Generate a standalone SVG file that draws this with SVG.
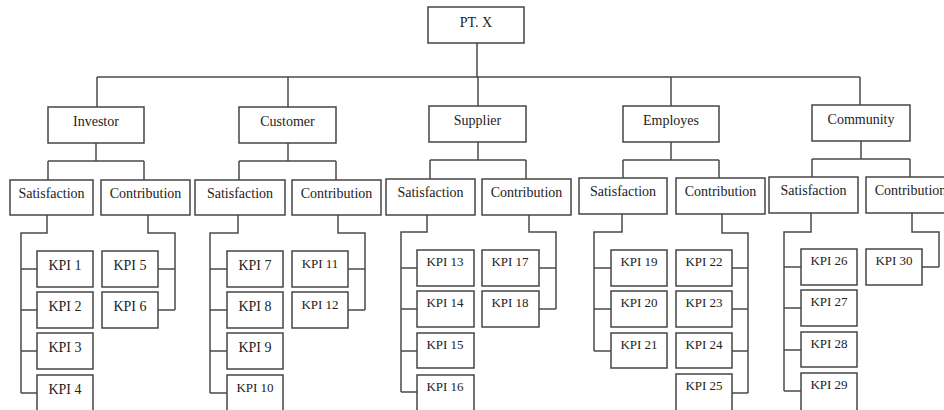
<svg xmlns="http://www.w3.org/2000/svg" width="944" height="410" viewBox="0 0 944 410">
<style>
.box{fill:#fff;stroke:#454545;stroke-width:1.5}
.ln{fill:none;stroke:#4a4a4a;stroke-width:1.5}
text{font-family:"Liberation Serif","Times New Roman",serif;font-size:14px;fill:#222;text-anchor:middle}
.s{font-size:13px}
</style>
<rect width="944" height="410" fill="#fff"/>
<g id="connectors" class="ln">
<path d="M477 43V77M97 77H860M97 77V107M288 77V107M478 77V106M671 77V106M860 77V105"/>
<path d="M96 143V161M48 161H144M48 161V180M144 161V180"/>
<path d="M288 143V161M239 161H336M239 161V180M336 161V180"/>
<path d="M478 142V160M430 160H526M430 160V179M526 160V179"/>
<path d="M671 142V160M623 160H719M623 160V178M719 160V178"/>
<path d="M861 141V159M812 159H910M812 159V177M910 159V177"/>
<path d="M47 215V233H21V393M21 269H37M21 310H37M21 351H37M21 393H37"/>
<path d="M148 215V233H175V310M158 269H175M158 310H175"/>
<path d="M238 215V233H210V393M210 269H227M210 310H227M210 351H227M210 393H227"/>
<path d="M338 215V233H365V310M348 269H365M348 310H365"/>
<path d="M427 215V232H401V392M401 268H417M401 309H417M401 351H417M401 392H417"/>
<path d="M529 215V232H556V309M539 268H556M539 309H556"/>
<path d="M622 214V232H594V351M594 268H611M594 309H611M594 351H611"/>
<path d="M722 214V233H748V393M732 268H748M732 309H748M732 351H748M732 393H748"/>
<path d="M811 213V232H784V391M784 267H801M784 308H801M784 350H801M784 391H801"/>
<path d="M912 213V232H939V267M922 267H939"/>
</g>
<g id="ptx"><rect class="box" x="428" y="7" width="96" height="36"/><text x="476" y="27">PT. X</text></g>
<g id="investor"><rect class="box" x="48" y="107" width="96" height="36"/><text x="96" y="126">Investor</text></g>
<g id="customer"><rect class="box" x="239" y="107" width="97" height="36"/><text x="287.5" y="126">Customer</text></g>
<g id="supplier"><rect class="box" x="429" y="106" width="97" height="36"/><text x="477.5" y="125">Supplier</text></g>
<g id="employes"><rect class="box" x="623" y="106" width="96" height="36"/><text x="671" y="125">Employes</text></g>
<g id="community"><rect class="box" x="812" y="105" width="98" height="36"/><text x="861" y="124">Community</text></g>
<g id="inv-sat"><rect class="box" x="10" y="180" width="83" height="35"/><text x="51.5" y="198">Satisfaction</text></g>
<g id="inv-con"><rect class="box" x="101" y="180" width="89" height="35"/><text x="145.5" y="198">Contribution</text></g>
<g id="cus-sat"><rect class="box" x="195" y="180" width="90" height="35"/><text x="240" y="198">Satisfaction</text></g>
<g id="cus-con"><rect class="box" x="292" y="180" width="89" height="35"/><text x="336.5" y="198">Contribution</text></g>
<g id="sup-sat"><rect class="box" x="386" y="179" width="89" height="36"/><text x="430.5" y="197">Satisfaction</text></g>
<g id="sup-con"><rect class="box" x="482" y="179" width="89" height="36"/><text x="526.5" y="197">Contribution</text></g>
<g id="emp-sat"><rect class="box" x="579" y="178" width="88" height="36"/><text x="623" y="196">Satisfaction</text></g>
<g id="emp-con"><rect class="box" x="676" y="178" width="89" height="36"/><text x="720.5" y="196">Contribution</text></g>
<g id="com-sat"><rect class="box" x="769" y="177" width="89" height="36"/><text x="813.5" y="195">Satisfaction</text></g>
<g id="com-con"><rect class="box" x="866" y="177" width="89" height="36"/><text x="910.5" y="195">Contribution</text></g>
<g id="kpi1"><rect class="box" x="37" y="251" width="56" height="36"/><text x="65" y="270">KPI 1</text></g>
<g id="kpi2"><rect class="box" x="37" y="292" width="56" height="36"/><text x="65" y="311">KPI 2</text></g>
<g id="kpi3"><rect class="box" x="37" y="333" width="56" height="36"/><text x="65" y="352">KPI 3</text></g>
<g id="kpi4"><rect class="box" x="37" y="375" width="56" height="36"/><text x="65" y="394">KPI 4</text></g>
<g id="kpi5"><rect class="box" x="102" y="251" width="56" height="36"/><text x="130" y="270">KPI 5</text></g>
<g id="kpi6"><rect class="box" x="102" y="292" width="56" height="36"/><text x="130" y="311">KPI 6</text></g>
<g id="kpi7"><rect class="box" x="227" y="251" width="56" height="36"/><text x="255" y="270">KPI 7</text></g>
<g id="kpi8"><rect class="box" x="227" y="292" width="56" height="36"/><text x="255" y="311">KPI 8</text></g>
<g id="kpi9"><rect class="box" x="227" y="333" width="56" height="36"/><text x="255" y="352">KPI 9</text></g>
<g id="kpi10"><rect class="box" x="227" y="375" width="56" height="36"/><text class="s" x="255" y="392">KPI 10</text></g>
<g id="kpi11"><rect class="box" x="292" y="251" width="56" height="36"/><text class="s" x="320" y="268">KPI 11</text></g>
<g id="kpi12"><rect class="box" x="292" y="292" width="56" height="36"/><text class="s" x="320" y="309">KPI 12</text></g>
<g id="kpi13"><rect class="box" x="417" y="250" width="57" height="36"/><text class="s" x="445" y="266">KPI 13</text></g>
<g id="kpi14"><rect class="box" x="417" y="291" width="57" height="36"/><text class="s" x="445" y="307">KPI 14</text></g>
<g id="kpi15"><rect class="box" x="417" y="333" width="57" height="35"/><text class="s" x="445" y="349">KPI 15</text></g>
<g id="kpi16"><rect class="box" x="417" y="375" width="57" height="36"/><text class="s" x="445" y="391">KPI 16</text></g>
<g id="kpi17"><rect class="box" x="482" y="250" width="57" height="36"/><text class="s" x="510" y="266">KPI 17</text></g>
<g id="kpi18"><rect class="box" x="482" y="291" width="57" height="36"/><text class="s" x="510" y="307">KPI 18</text></g>
<g id="kpi19"><rect class="box" x="611" y="250" width="56" height="36"/><text class="s" x="639" y="266">KPI 19</text></g>
<g id="kpi20"><rect class="box" x="611" y="291" width="56" height="36"/><text class="s" x="639" y="307">KPI 20</text></g>
<g id="kpi21"><rect class="box" x="611" y="333" width="56" height="35"/><text class="s" x="639" y="349">KPI 21</text></g>
<g id="kpi22"><rect class="box" x="676" y="250" width="56" height="36"/><text class="s" x="704" y="266">KPI 22</text></g>
<g id="kpi23"><rect class="box" x="676" y="291" width="56" height="36"/><text class="s" x="704" y="307">KPI 23</text></g>
<g id="kpi24"><rect class="box" x="676" y="333" width="56" height="35"/><text class="s" x="704" y="349">KPI 24</text></g>
<g id="kpi25"><rect class="box" x="676" y="374" width="56" height="37"/><text class="s" x="704" y="390">KPI 25</text></g>
<g id="kpi26"><rect class="box" x="801" y="249" width="56" height="36"/><text class="s" x="829" y="265">KPI 26</text></g>
<g id="kpi27"><rect class="box" x="801" y="290" width="56" height="36"/><text class="s" x="829" y="306">KPI 27</text></g>
<g id="kpi28"><rect class="box" x="801" y="332" width="56" height="35"/><text class="s" x="829" y="348">KPI 28</text></g>
<g id="kpi29"><rect class="box" x="801" y="373" width="56" height="38"/><text class="s" x="829" y="389">KPI 29</text></g>
<g id="kpi30"><rect class="box" x="866" y="249" width="56" height="36"/><text class="s" x="894" y="265">KPI 30</text></g>
</svg>
